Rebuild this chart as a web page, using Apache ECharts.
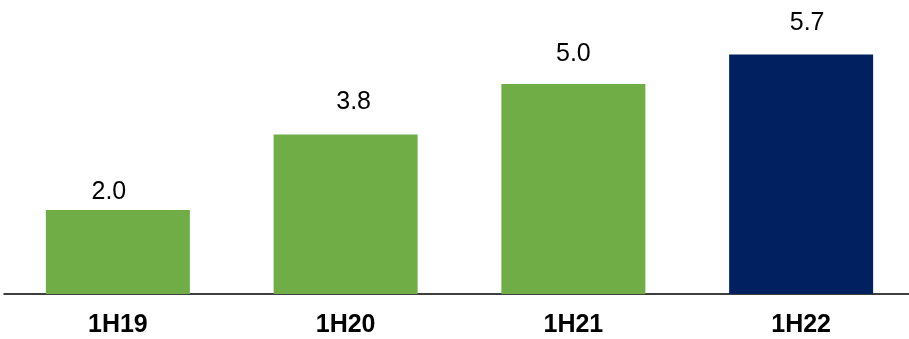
<!DOCTYPE html>
<html>
<head>
<meta charset="utf-8">
<script src="https://cdn.jsdelivr.net/npm/echarts@6/dist/echarts.min.js"></script>
<style>
  html, body { margin: 0; padding: 0; background: #fff; }
  #chart { width: 909px; height: 339px; }
</style>
</head>
<body>
<div id="chart"></div>
<script>
// 数据
const categories = ['1H19', '1H20', '1H21', '1H22'];
const values = [2.0, 3.8, 5.0, 5.7];
const barColors = ['#70AD47', '#70AD47', '#70AD47', '#002060'];
// 数值标签与柱顶的距离、水平偏移（原图标签并非严格居中）
const labelGaps = [5, 20, 17, 19];
const labelShifts = [-9, 8, 0, 6];

const chart = echarts.init(document.getElementById('chart'));

const seriesData = values.map((v, i) => ({
  value: v,
  itemStyle: { color: barColors[i] },
  label: { distance: labelGaps[i], offset: [labelShifts[i], 0] }
}));

const option = {
  backgroundColor: '#fff',
  animation: false,
  grid: {
    left: 4,
    top: 0,
    width: 911,
    bottom: 45,
    outerBoundsMode: 'none'
  },
  xAxis: {
    type: 'category',
    data: categories,
    axisLine: { show: true, lineStyle: { color: '#000', width: 1.5 } },
    axisTick: { show: false },
    axisLabel: {
      color: '#000',
      fontFamily: 'Liberation Sans, Arial, sans-serif',
      fontWeight: 'bold',
      fontSize: 25,
      margin: 19
    }
  },
  yAxis: {
    type: 'value',
    min: 0,
    max: 7,
    show: false,
    splitLine: { show: false }
  },
  series: [
    {
      type: 'bar',
      barWidth: 144,
      data: seriesData,
      label: {
        show: true,
        position: 'top',
        color: '#000',
        fontFamily: 'Liberation Sans, Arial, sans-serif',
        fontSize: 25,
        formatter: (p) => p.value.toFixed(1)
      }
    }
  ]
};

chart.setOption(option);
</script>
</body>
</html>
